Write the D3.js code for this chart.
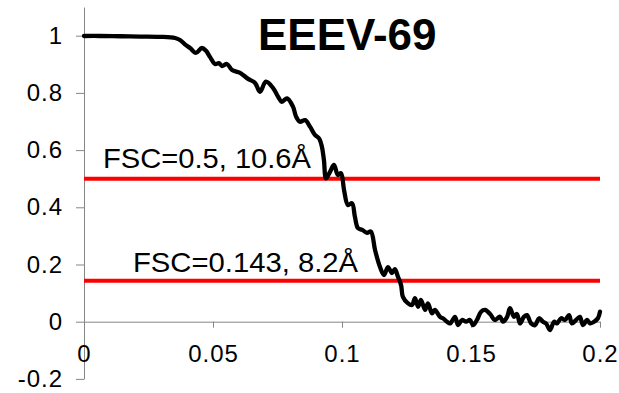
<!DOCTYPE html>
<html><head><meta charset="utf-8">
<script src="https://cdn.jsdelivr.net/npm/d3@7"></script>
<style>body{margin:0;background:#fff}svg{display:block}text{font-family:"Liberation Sans",Arial,sans-serif}</style>
</head><body>
<svg id="c" width="619" height="393"></svg>
<script>
const title = "EEEV-69";
const freq = [0,0.0062,0.0140,0.0217,0.0295,0.0353,0.0372,0.0395,0.0411,0.0434,0.0457,0.0473,0.0488,0.0508,0.0523,0.0535,0.0554,0.0574,0.0605,0.0636,0.0663,0.0682,0.0705,0.0733,0.0752,0.0767,0.0787,0.0810,0.0822,0.0837,0.0857,0.0876,0.0895,0.0911,0.0922,0.0930,0.0938,0.0953,0.0969,0.0984,0.0996,0.1008,0.1023,0.1039,0.1050,0.1062,0.1078,0.1097,0.1112,0.1128,0.1147,0.1163,0.1178,0.1194,0.1205,0.1217,0.1229,0.1236,0.1256,0.1271,0.1283,0.1295,0.1306,0.1322,0.1333,0.1349,0.1360,0.1380,0.1391,0.1407,0.1419,0.1438,0.1450,0.1465,0.1481,0.1496,0.1508,0.1523,0.1539,0.1554,0.1574,0.1593,0.1612,0.1624,0.1640,0.1651,0.1667,0.1678,0.1690,0.1705,0.1717,0.1733,0.1748,0.1764,0.1779,0.1791,0.1806,0.1822,0.1833,0.1849,0.1864,0.1880,0.1891,0.1907,0.1922,0.1934,0.1950,0.1961,0.1977,0.1992,0.2000];
const fsc = [0.999,0.999,0.998,0.997,0.996,0.992,0.985,0.967,0.957,0.940,0.957,0.947,0.926,0.901,0.904,0.894,0.901,0.880,0.870,0.849,0.835,0.804,0.839,0.817,0.787,0.769,0.781,0.752,0.717,0.699,0.705,0.682,0.653,0.641,0.612,0.565,0.501,0.523,0.548,0.513,0.519,0.460,0.408,0.414,0.367,0.327,0.321,0.311,0.315,0.251,0.192,0.163,0.191,0.170,0.184,0.157,0.128,0.087,0.064,0.058,0.082,0.052,0.076,0.041,0.064,0.029,0.041,0.017,0.012,0.000,-0.006,0.017,-0.012,0.006,0.000,0.006,-0.012,0.006,0.035,0.041,0.027,0.006,0.018,0.000,0.017,0.047,0.017,0.027,-0.006,0.017,0.023,-0.006,-0.012,0.012,0.000,-0.006,-0.029,0.000,-0.006,0.012,0.006,0.023,-0.006,0.006,0.017,-0.012,0.006,-0.006,0.000,0.012,0.035];
const xTicks = [0,0.05,0.1,0.15,0.2];
const xTickLabels = ["0","0.05","0.1","0.15","0.2"];
const yTicks = [-0.2,0,0.2,0.4,0.6,0.8,1];
const yTickLabels = ["-0.2","0","0.2","0.4","0.6","0.8","1"];
const thresholds = [0.5,0.143];
const thresholdLabels = ["FSC=0.5, 10.6Å","FSC=0.143, 8.2Å"];

const svg = d3.select("#c");
const x = d3.scaleLinear().domain([0,0.2]).range([84,600]);
const y = d3.scaleLinear().domain([-0.2,1.1]).range([378.9,7.1]);
const axisColor = "#868686";

// y axis
const ya = svg.append("g").attr("transform","translate(84,0)")
  .call(d3.axisLeft(y).tickValues(yTicks).tickFormat((d,i)=>yTickLabels[i]).tickSize(8).tickPadding(13).tickSizeOuter(0));
ya.select(".domain").attr("stroke",axisColor);
ya.selectAll(".tick line").attr("stroke",axisColor);
ya.selectAll(".tick text").attr("font-size",24).attr("letter-spacing","1px").attr("font-family","Liberation Sans, Arial, sans-serif").attr("fill","#000");
// x axis at y=0
const xa = svg.append("g").attr("transform",`translate(0,${y(0)})`)
  .call(d3.axisBottom(x).tickValues(xTicks).tickFormat((d,i)=>xTickLabels[i]).tickSize(6).tickPadding(17).tickSizeOuter(0));
xa.select(".domain").attr("stroke",axisColor);
xa.selectAll(".tick line").attr("stroke",axisColor);
xa.selectAll(".tick text").attr("font-size",24).attr("letter-spacing","1px").attr("font-family","Liberation Sans, Arial, sans-serif").attr("fill","#000");

// threshold lines
svg.selectAll("line.thr").data(thresholds).join("line").attr("class","thr")
  .attr("x1",x(0)).attr("x2",x(0.2)).attr("y1",d=>y(d)).attr("y2",d=>y(d))
  .attr("stroke","#ff0000").attr("stroke-width",4);

// curve
const pts = freq.map((f,i)=>[f,fsc[i]]);
svg.append("path").datum(pts)
  .attr("d",d3.line().x(d=>x(d[0])).y(d=>y(d[1])).curve(d3.curveCatmullRom.alpha(0.5)))
  .attr("fill","none").attr("stroke","#000").attr("stroke-width",4.3).attr("stroke-linejoin","round").attr("stroke-linecap","round");

// labels
const labelPos = [[103,168,208],[133,272,225]];
svg.selectAll("text.thr").data(thresholdLabels).join("text").attr("class","thr")
  .attr("x",(d,i)=>labelPos[i][0]).attr("y",(d,i)=>labelPos[i][1])
  .attr("textLength",(d,i)=>labelPos[i][2]).attr("lengthAdjust","spacingAndGlyphs")
  .attr("font-size",28).attr("fill","#000").text(d=>d);

svg.append("text").attr("x",258).attr("y",50).attr("font-size",44).attr("font-weight","bold").attr("fill","#000").text(title);
</script>
</body></html>
